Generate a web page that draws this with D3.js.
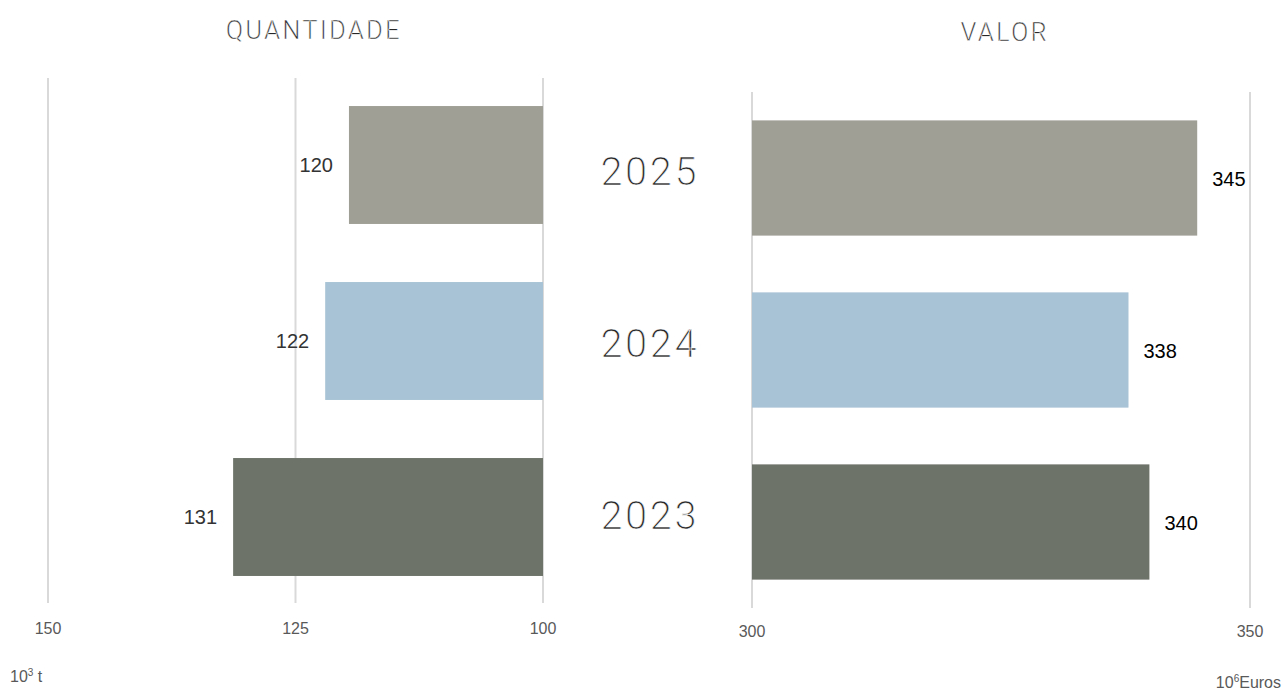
<!DOCTYPE html>
<html>
<head>
<meta charset="utf-8">
<script src="https://d3js.org/d3.v7.min.js"></script>
<style>
  body { margin: 0; background: #fff; }
  svg { display: block; }
  .grid line { stroke: #d9d9d9; stroke-width: 2px; }
  .tick-label { font: 16px "Liberation Sans", Arial, sans-serif; fill: #595959; }
  .title { font-family: Roboto, "Open Sans", sans-serif; font-weight: 300; font-size: 25px; fill: #262626;
           letter-spacing: 2.6px; stroke: #fff; stroke-width: 0.35px; }
  .year { font-family: Roboto, "Open Sans", sans-serif; font-weight: 300; font-size: 39px; fill: #262626;
          letter-spacing: 3px; stroke: #fff; stroke-width: 0.55px; }
  .val { font: 20px "Liberation Sans", Arial, sans-serif; }
</style>
</head>
<body>
<div id="chart"></div>
<script>
// data
const years = ["2025", "2024", "2023"];
const quantidade = [119.6, 122.0, 131.3];   // 10^3 t
const valor = [344.7, 337.8, 339.9];         // 10^6 Euros
const qtyLabels = ["120", "122", "131"];
const valLabels = ["345", "338", "340"];
const qtyTicks = [150, 125, 100];
const valTicks = [300, 350];
const colors = ["#a09f96", "#a7c3d5", "#6d7369"];

const W = 1284, H = 693;
const svg = d3.select("#chart").append("svg").attr("width", W).attr("height", H);

// left panel (reversed axis, bars grow leftwards from 100)
const xL = d3.scaleLinear().domain([150, 100]).range([48, 543]);
const yL = d3.scaleBand().domain(years).range([77, 605]).paddingInner(0.33).paddingOuter(0.165);

// right panel
const xR = d3.scaleLinear().domain([300, 350]).range([752, 1250]);
const yR = d3.scaleBand().domain(years).range([92, 608]).paddingInner(0.33).paddingOuter(0.165);

// gridlines
svg.append("g").attr("class", "grid").selectAll("line")
  .data(qtyTicks).join("line")
  .attr("x1", d => xL(d)).attr("x2", d => xL(d))
  .attr("y1", 78).attr("y2", 603);
svg.append("g").attr("class", "grid").selectAll("line")
  .data(valTicks).join("line")
  .attr("x1", d => xR(d)).attr("x2", d => xR(d))
  .attr("y1", 92).attr("y2", 608);

// tick labels
svg.append("g").selectAll("text")
  .data(qtyTicks).join("text")
  .attr("class", "tick-label")
  .attr("x", d => xL(d)).attr("y", 634)
  .attr("text-anchor", "middle")
  .text(d => d);
svg.append("g").selectAll("text")
  .data(valTicks).join("text")
  .attr("class", "tick-label")
  .attr("x", d => xR(d)).attr("y", 637)
  .attr("text-anchor", "middle")
  .text(d => d);

// bars left
svg.append("g").selectAll("rect")
  .data(years).join("rect")
  .attr("x", (d, i) => xL(quantidade[i]))
  .attr("y", d => yL(d))
  .attr("width", (d, i) => xL(100) - xL(quantidade[i]))
  .attr("height", yL.bandwidth())
  .attr("fill", (d, i) => colors[i]);

svg.append("g").selectAll("text")
  .data(years).join("text")
  .attr("class", "val")
  .attr("x", (d, i) => xL(quantidade[i]) - 16)
  .attr("y", d => yL(d) + yL.bandwidth() / 2)
  .attr("dy", "0.35em")
  .attr("text-anchor", "end")
  .attr("fill", "#333")
  .text((d, i) => qtyLabels[i]);

// bars right
svg.append("g").selectAll("rect")
  .data(years).join("rect")
  .attr("x", xR(300))
  .attr("y", d => yR(d))
  .attr("width", (d, i) => xR(valor[i]) - xR(300))
  .attr("height", yR.bandwidth())
  .attr("fill", (d, i) => colors[i]);

svg.append("g").selectAll("text")
  .data(years).join("text")
  .attr("class", "val")
  .attr("x", (d, i) => xR(valor[i]) + 15)
  .attr("y", d => yR(d) + yR.bandwidth() / 2 + 1)
  .attr("dy", "0.35em")
  .attr("fill", "#000")
  .text((d, i) => valLabels[i]);

// year labels in the middle
svg.append("g").selectAll("text")
  .data(years).join("text")
  .attr("class", "year")
  .attr("x", 650)
  .attr("y", d => yR(d) + yR.bandwidth() / 2 - 7)
  .attr("dy", "0.35em")
  .attr("text-anchor", "middle")
  .text(d => d);

// titles
svg.append("text").attr("class", "title")
  .attr("x", 314).attr("y", 39).attr("text-anchor", "middle").text("QUANTIDADE");
svg.append("text").attr("class", "title")
  .attr("x", 1005).attr("y", 41).attr("text-anchor", "middle").text("VALOR");

// units
const u1 = svg.append("text").attr("class", "tick-label").attr("x", 10).attr("y", 682);
u1.append("tspan").text("10");
u1.append("tspan").attr("font-size", 10).attr("dy", -6).text("3");
u1.append("tspan").attr("dy", 6).text(" t");

const u2 = svg.append("text").attr("class", "tick-label").attr("x", 1281).attr("y", 688).attr("text-anchor", "end");
u2.append("tspan").text("10");
u2.append("tspan").attr("font-size", 10).attr("dy", -6).text("6");
u2.append("tspan").attr("dy", 6).text("Euros");
</script>
</body>
</html>
